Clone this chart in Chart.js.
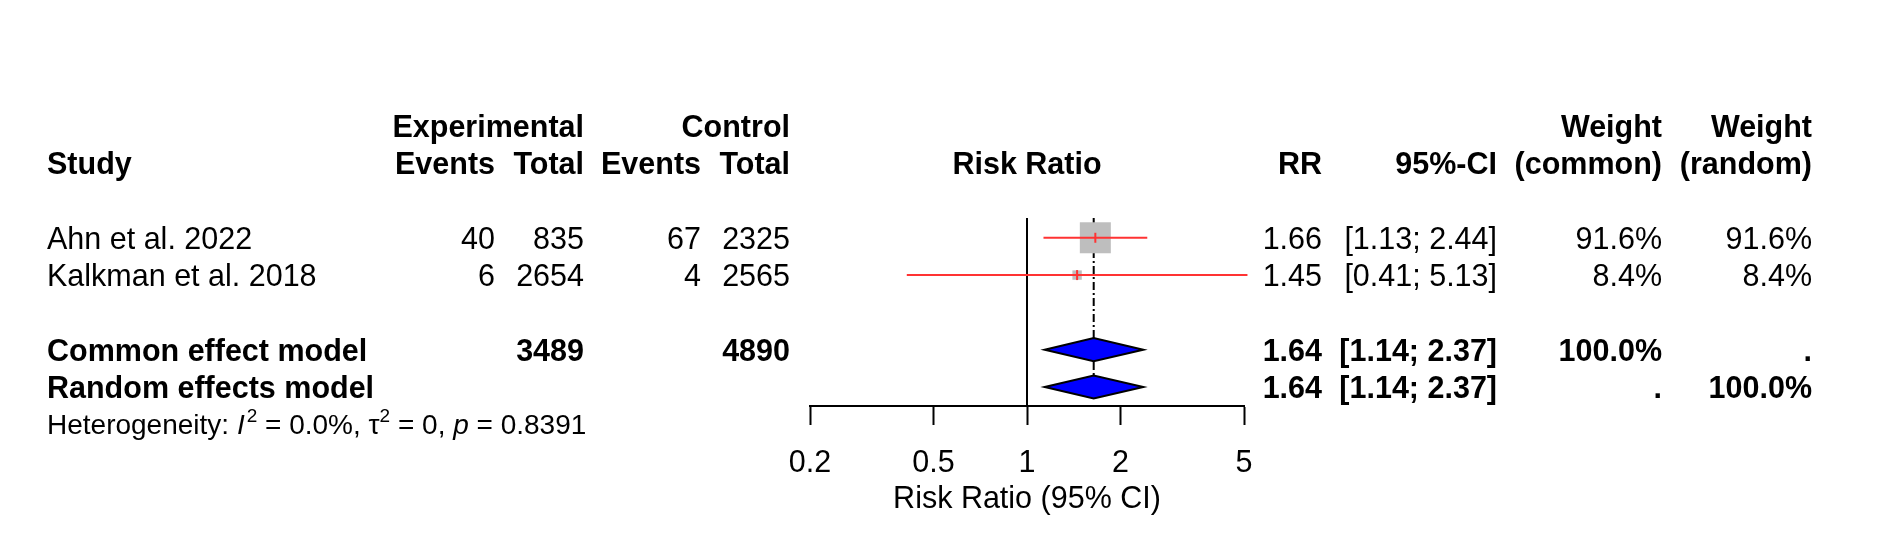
<!DOCTYPE html>
<html>
<head>
<meta charset="utf-8">
<script src="https://cdn.jsdelivr.net/npm/chart.js@4.4.1/dist/chart.umd.min.js"></script>
<style>
  html, body { margin: 0; padding: 0; background: #fff; }
  canvas { display: block; }
</style>
</head>
<body>
<canvas id="forest" width="1881" height="557"></canvas>
<script>
// individual studies
const studies = ["Ahn et al. 2022", "Kalkman et al. 2018"];
const expEvents = [40, 6];
const expTotal = [835, 2654];
const ctrlEvents = [67, 4];
const ctrlTotal = [2325, 2565];
const rr = [1.66, 1.45];
const ciLow = [1.13, 0.41];
const ciHigh = [2.44, 5.13];
const weightCommon = [91.6, 8.4];
const weightRandom = [91.6, 8.4];

// pooled estimates
const pooledLabels = ["Common effect model", "Random effects model"];
const pooledRR = [1.64, 1.64];
const pooledLow = [1.14, 1.14];
const pooledHigh = [2.37, 2.37];

// heterogeneity
const hetI2 = "0.0%";
const hetTau2 = "0";
const hetP = "0.8391";

// axis
const xTicks = [0.2, 0.5, 1, 2, 5];
const axisTitle = "Risk Ratio (95% CI)";

// row layout (y units)
const studyRows = [0, 1];
const pooledRows = [3, 4];
const hetRow = 5;

const FONT = '"Liberation Sans", Arial, Helvetica, sans-serif';
const FS = 30.5;
const RED = "#f33";
const col = { study: 47, expEv: 495, expTot: 584, ctlEv: 701, ctlTot: 790, rr: 1322, ci: 1497, wC: 1662, wR: 1812 };

Chart.defaults.font.family = FONT;
Chart.defaults.color = "#000";

const fmtCI = (lo, hi) => "[" + lo.toFixed(2) + "; " + hi.toFixed(2) + "]";
const maxW = Math.max(...weightCommon);
const squareMax = 31;

function text(ctx, s, x, y, align, bold, size, italic) {
  ctx.font = (italic ? "italic " : "") + (bold ? "bold " : "") + (size || FS) + "px " + FONT;
  ctx.textAlign = align || "left";
  ctx.textBaseline = "alphabetic";
  ctx.fillStyle = "#000";
  ctx.fillText(s, x, y);
  return ctx.measureText(s).width;
}

// table text, heterogeneity line
const tablePlugin = {
  id: "table",
  afterDraw(chart) {
    const ctx = chart.ctx;
    const y = chart.scales.y;
    const area = chart.chartArea;
    const rowY = (r) => y.getPixelForValue(r) + 11;
    ctx.save();

    // headers
    const h1 = 137, h2 = 174;
    text(ctx, "Experimental", col.expTot, h1, "right", true);
    text(ctx, "Control", col.ctlTot, h1, "right", true);
    text(ctx, "Weight", col.wC, h1, "right", true);
    text(ctx, "Weight", col.wR, h1, "right", true);
    text(ctx, "Study", col.study, h2, "left", true);
    text(ctx, "Events", col.expEv, h2, "right", true);
    text(ctx, "Total", col.expTot, h2, "right", true);
    text(ctx, "Events", col.ctlEv, h2, "right", true);
    text(ctx, "Total", col.ctlTot, h2, "right", true);
    text(ctx, "Risk Ratio", (area.left + area.right) / 2, h2, "center", true);
    text(ctx, "RR", col.rr, h2, "right", true);
    text(ctx, "95%-CI", col.ci, h2, "right", true);
    text(ctx, "(common)", col.wC, h2, "right", true);
    text(ctx, "(random)", col.wR, h2, "right", true);

    // studies
    studies.forEach((s, i) => {
      const yy = rowY(studyRows[i]);
      text(ctx, s, col.study, yy, "left");
      text(ctx, String(expEvents[i]), col.expEv, yy, "right");
      text(ctx, String(expTotal[i]), col.expTot, yy, "right");
      text(ctx, String(ctrlEvents[i]), col.ctlEv, yy, "right");
      text(ctx, String(ctrlTotal[i]), col.ctlTot, yy, "right");
      text(ctx, rr[i].toFixed(2), col.rr, yy, "right");
      text(ctx, fmtCI(ciLow[i], ciHigh[i]), col.ci, yy, "right");
      text(ctx, weightCommon[i].toFixed(1) + "%", col.wC, yy, "right");
      text(ctx, weightRandom[i].toFixed(1) + "%", col.wR, yy, "right");
    });

    // pooled rows
    const sumExp = expTotal.reduce((a, b) => a + b, 0);
    const sumCtl = ctrlTotal.reduce((a, b) => a + b, 0);
    pooledLabels.forEach((s, i) => {
      const yy = rowY(pooledRows[i]);
      text(ctx, s, col.study, yy, "left", true);
      if (i === 0) {
        text(ctx, String(sumExp), col.expTot, yy, "right", true);
        text(ctx, String(sumCtl), col.ctlTot, yy, "right", true);
      }
      text(ctx, pooledRR[i].toFixed(2), col.rr, yy, "right", true);
      text(ctx, fmtCI(pooledLow[i], pooledHigh[i]), col.ci, yy, "right", true);
      text(ctx, i === 0 ? "100.0%" : ".", col.wC, yy, "right", true);
      text(ctx, i === 1 ? "100.0%" : ".", col.wR, yy, "right", true);
    });

    // heterogeneity
    const hy = rowY(hetRow) - 1;
    const hs = 28, sup = 19;
    let x = col.study;
    x += text(ctx, "Heterogeneity: ", x, hy, "left", false, hs);
    x += text(ctx, "I", x, hy, "left", false, hs, true) + 2;
    x += text(ctx, "2", x, hy - 12, "left", false, sup);
    x += text(ctx, " = " + hetI2 + ", ", x, hy, "left", false, hs);
    x += text(ctx, "\u03c4", x, hy, "left", false, hs);
    x += text(ctx, "2", x, hy - 12, "left", false, sup);
    x += text(ctx, " = " + hetTau2 + ", ", x, hy, "left", false, hs);
    x += text(ctx, "p", x, hy, "left", false, hs, true);
    text(ctx, " = " + hetP, x, hy, "left", false, hs);
    ctx.restore();
  }
};

// summary diamonds
const diamondPlugin = {
  id: "diamonds",
  afterDatasetsDraw(chart) {
    const ctx = chart.ctx;
    const xs = chart.scales.x, ys = chart.scales.y;
    ctx.save();
    pooledRows.forEach((r, i) => {
      const yc = ys.getPixelForValue(r);
      const hh = ys.getPixelForValue(r + 0.31) - yc;
      const xl = xs.getPixelForValue(pooledLow[i]);
      const xm = xs.getPixelForValue(pooledRR[i]);
      const xr = xs.getPixelForValue(pooledHigh[i]);
      ctx.beginPath();
      ctx.moveTo(xl, yc);
      ctx.lineTo(xm, yc - hh);
      ctx.lineTo(xr, yc);
      ctx.lineTo(xm, yc + hh);
      ctx.closePath();
      ctx.fillStyle = "#0000ff";
      ctx.fill();
      ctx.lineWidth = 2;
      ctx.strokeStyle = "#000";
      ctx.stroke();
    });
    ctx.restore();
  }
};

const yMin = -0.53, yMax = 4.51;

const datasets = [];
// CI lines (on top)
studies.forEach((s, i) => {
  datasets.push({
    data: [{ x: ciLow[i], y: studyRows[i] }, { x: ciHigh[i], y: studyRows[i] }],
    showLine: true, borderColor: RED, borderWidth: 2, pointRadius: 0, clip: false, order: 1
  });
});
// estimate tick
datasets.push({
  data: rr.map((v, i) => ({ x: v, y: studyRows[i] })),
  pointStyle: "line", pointRotation: 90, pointRadius: 5,
  borderColor: RED, borderWidth: 2, order: 0
});
// weight squares
datasets.push({
  data: rr.map((v, i) => ({ x: v, y: studyRows[i] })),
  pointStyle: "rect",
  pointRadius: weightCommon.map(w => squareMax * Math.sqrt(w / maxW) / Math.SQRT2),
  backgroundColor: "#bebebe", borderWidth: 0, order: 2
});
// no-effect line
datasets.push({
  data: [{ x: 1, y: yMin }, { x: 1, y: yMax }],
  showLine: true, borderColor: "#000", borderWidth: 2, pointRadius: 0, order: 3
});
// pooled estimate line
datasets.push({
  data: [{ x: pooledRR[0], y: yMin }, { x: pooledRR[0], y: pooledRows[1] - 0.31 }],
  showLine: true, borderColor: "#000", borderWidth: 2, borderDash: [8, 3, 2, 3], pointRadius: 0, order: 4
});

new Chart(document.getElementById("forest"), {
  type: "scatter",
  data: { datasets },
  options: {
    responsive: false,
    devicePixelRatio: 1,
    animation: false,
    events: [],
    layout: { padding: { left: 810, right: 637, top: 218, bottom: 0 } },
    plugins: { legend: { display: false }, tooltip: { enabled: false } },
    scales: {
      x: {
        type: "logarithmic",
        min: 0.2,
        max: 5,
        afterBuildTicks: (s) => { s.ticks = xTicks.map(v => ({ value: v })); },
        afterFit: (s) => { s.height = 151; },
        ticks: {
          autoSkip: false, maxRotation: 0, padding: 20,
          font: { size: FS }, color: "#000",
          callback: (v) => String(v)
        },
        grid: { drawOnChartArea: false, drawTicks: true, tickLength: 19, tickWidth: 2, tickColor: "#000", color: "#000" },
        border: { display: true, color: "#000", width: 2 },
        title: { display: true, text: axisTitle, font: { size: FS }, color: "#000", padding: { top: 0, bottom: 39 } }
      },
      y: { type: "linear", min: yMin, max: yMax, reverse: true, display: false }
    }
  },
  plugins: [tablePlugin, diamondPlugin]
});
</script>
</body>
</html>
